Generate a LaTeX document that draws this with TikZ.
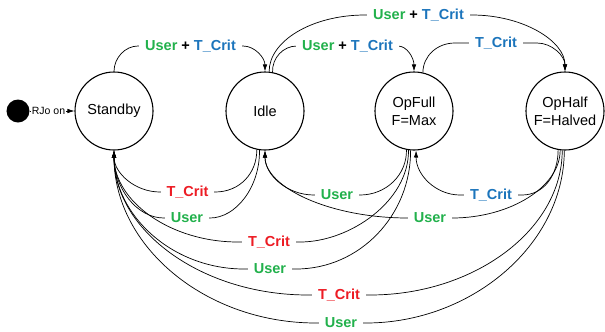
\documentclass[tikz,border=0pt]{standalone}
\usepackage{fontspec}
\setmainfont{Liberation Sans}
\usetikzlibrary{arrows.meta}
\definecolor{usergreen}{RGB}{34,177,76}
\definecolor{critblue}{RGB}{28,117,188}
\definecolor{critred}{RGB}{237,28,36}
\newcommand{\usr}{\textcolor{usergreen}{User}}
\newcommand{\tcb}{\textcolor{critblue}{T\_Crit}}
\newcommand{\tcr}{\textcolor{critred}{T\_Crit}}
\tikzset{
  state/.style={draw, circle, line width=1.1bp, minimum size=78bp, inner sep=0pt, align=center, font=\fontsize{14.5bp}{18bp}\selectfont},
  trans/.style={line width=0.7bp, -{Latex[length=7bp,width=4.5bp]}},
  lbl/.style={fill=white, inner xsep=6bp, inner ysep=1bp, font=\bfseries\fontsize{14.5bp}{16bp}\selectfont}
}
\begin{document}
\begin{tikzpicture}[x=1bp,y=-1bp]
\useasboundingbox (0,0) rectangle (605,331);
\node[state] (standby) at (114,111) {Standby};
\node[state] (idle) at (265,111) {Idle};
\node[state] (opfull) at (414,111) {OpFull\\F=Max};
\node[state] (ophalf) at (565,111) {OpHalf\\F=Halved};
\node[circle, fill=black, minimum size=23bp, inner sep=0pt] (init) at (18,111) {};
\draw[trans] (init) -- node[pos=0.42, fill=white, inner sep=1bp, font=\fontsize{10.5bp}{12bp}\selectfont] {RJo on} (standby);

\draw[trans] (standby.north) .. controls (114,58) and (125,46) .. (138,46) -- node[lbl] {\usr{} + \tcb} (243,46) .. controls (255,46) and (265,58) .. (idle.north);
\draw[trans] (idle.79) .. controls (272,58) and (283,46) .. (297,46) -- node[lbl] {\usr{} + \tcb} (398,46) .. controls (407,46) and (414,58) .. (opfull.north);
\draw[trans] (idle.84) .. controls (269,41) and (312,15) .. (365,15) -- node[lbl] {\usr{} + \tcb} (472,15) .. controls (523,15) and (565,41) .. (ophalf.north);
\draw[trans] (opfull.77) .. controls (423,56) and (437,43) .. (455,43) -- node[lbl] {\tcb} (537,43) .. controls (552,43) and (565,56) .. (ophalf.north);

\draw[trans] (idle.-102) .. controls (257,173) and (240,192) .. (215,192) -- node[lbl] {\tcr} (160,192) .. controls (135,192) and (114,173) .. (standby.south);
\draw[trans] (idle.-98) .. controls (260,187) and (236,218) .. (210,218) -- node[lbl] {\usr} (164,218) .. controls (136,218) and (114,187) .. (standby.south);
\draw[trans] (opfull.-101) .. controls (407,175) and (386,195) .. (360,195) -- node[lbl] {\usr} (314,195) .. controls (287,195) and (265,175) .. (idle.south);
\draw[trans] (ophalf.-97) .. controls (560,187) and (510,218) .. (452,218) -- node[lbl] {\usr} (408,218) .. controls (329,218) and (265,187) .. (idle.south);
\draw[trans] (ophalf.-100) .. controls (558,175) and (544,195) .. (522,195) -- node[lbl] {\tcb} (460,195) .. controls (436,195) and (416,175) .. (opfull.-87);
\draw[trans] (opfull.-98) .. controls (409,201) and (350,242) .. (300,242) -- node[lbl] {\tcr} (238,242) .. controls (170,242) and (114,201) .. (standby.south);
\draw[trans] (opfull.-95) .. controls (411,215) and (360,269) .. (296,269) -- node[lbl] {\usr} (244,269) .. controls (172,269) and (114,215) .. (standby.south);
\draw[trans] (ophalf.-94) .. controls (562,230) and (474,295) .. (370,295) -- node[lbl] {\tcr} (308,295) .. controls (201,295) and (114,230) .. (standby.south);
\draw[trans] (ophalf.-91) .. controls (564,245) and (471,323) .. (366,323) -- node[lbl] {\usr} (316,323) .. controls (205,323) and (114,246) .. (standby.south);
\end{tikzpicture}
\end{document}
